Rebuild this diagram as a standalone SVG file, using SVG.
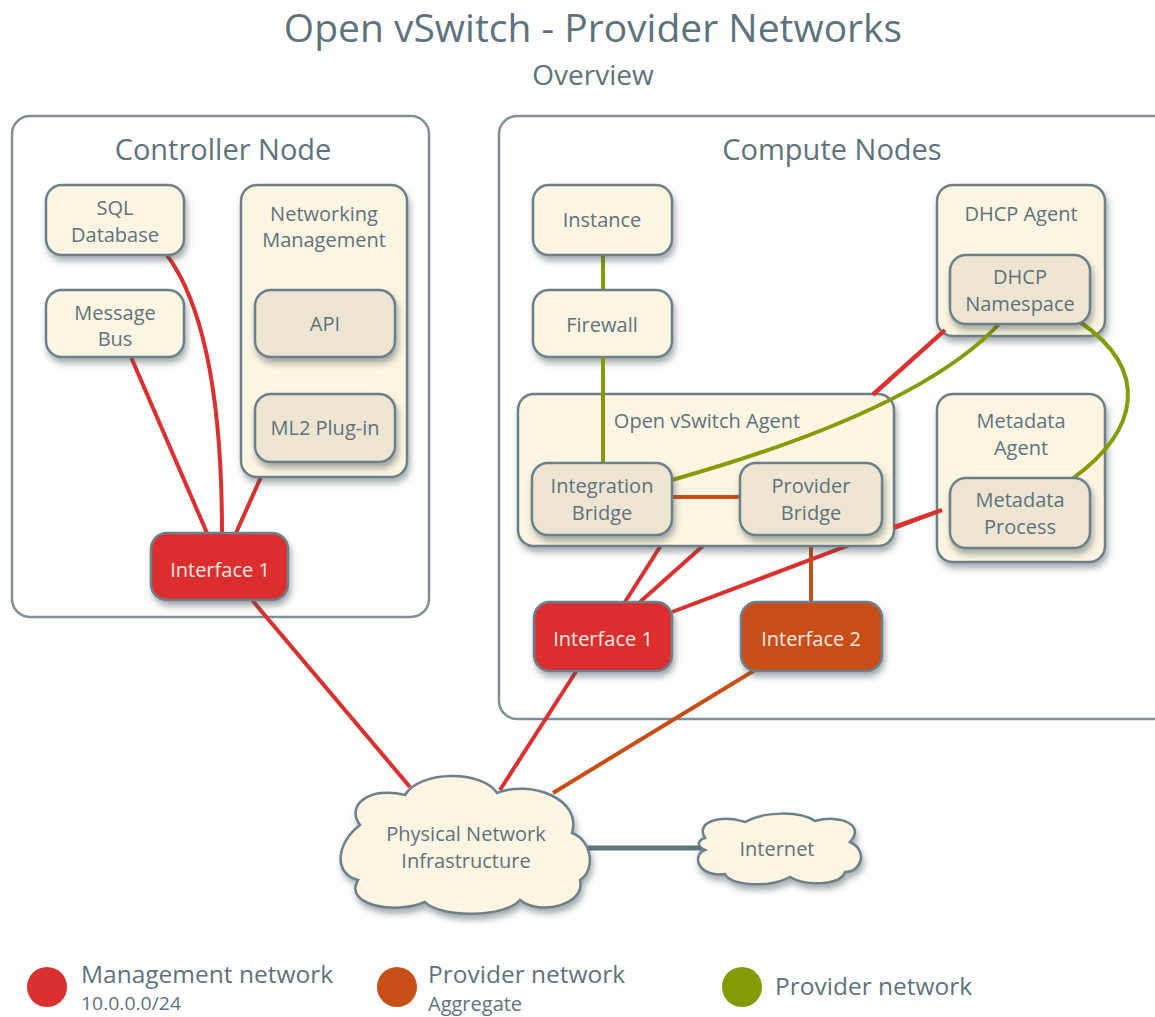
<svg xmlns="http://www.w3.org/2000/svg" width="1155" height="1017" viewBox="0 0 1155 1017">
<defs>
<filter id="sh" x="-20%" y="-20%" width="140%" height="150%">
<feDropShadow dx="2" dy="5" stdDeviation="3" flood-color="#3c4a50" flood-opacity="0.45"/>
</filter>
<style>
text{font-family:"Open Sans","Noto Sans","Liberation Sans",sans-serif;fill:#5e727c;}
.t{font-size:20px;text-anchor:middle;}
.big{font-size:29px;text-anchor:middle;}
.box{fill:#fcf5e2;stroke:#6b818b;stroke-width:2.5;filter:url(#sh);}
.inner{fill:#ede5d2;stroke:#6b818b;stroke-width:2.5;filter:url(#sh);}
.area{fill:#ffffff;stroke:#7d9099;stroke-width:2.5;}
.ifr{fill:#dc2f2f;stroke:#6b818b;stroke-width:2.5;filter:url(#sh);}
.ifo{fill:#c84e17;stroke:#6b818b;stroke-width:2.5;filter:url(#sh);}
.wt{fill:#fbece4;}
.r{stroke:#dc3030;stroke-width:4;fill:none;}
.o{stroke:#c84e17;stroke-width:4;fill:none;}
.g{stroke:#869a06;stroke-width:4;fill:none;}
.k{stroke:#5f7580;stroke-width:5;fill:none;}
</style>
</defs>
<rect width="1155" height="1017" fill="#ffffff"/>
<text x="593" y="42" style="font-size:39px;text-anchor:middle">Open vSwitch - Provider Networks</text>
<text x="593" y="85" style="font-size:28px;text-anchor:middle">Overview</text>

<g id="controller-node">
<rect class="area" x="12" y="116" width="417" height="501" rx="18"/>
<text class="big" x="223" y="160">Controller Node</text>
</g>
<g id="compute-nodes">
<rect class="area" x="499" y="116" width="680" height="603" rx="18"/>
<text class="big" x="832" y="160">Compute Nodes</text>
</g>

<g id="connectors">
<path class="r" d="M167,255 Q222,330 222,533"/>
<path class="r" d="M131,357 L207,533"/>
<path class="r" d="M261,477 L236,533"/>
<path class="r" d="M252,600 L410,787"/>
<path class="g" d="M603,255 L603,290"/>
<path class="r" d="M945,330 L640,602"/>
<path class="r" d="M672,528 L625,602"/>
<path class="r" d="M942,510 L672,612"/>
<path class="o" d="M811,535 L811,602"/>
<path class="r" d="M577,670 L500,790"/>
<path class="o" d="M755,670 L553,793"/>
<path class="k" d="M585,848 L702,848"/>
</g>

<g id="sql-database">
<rect class="box" x="46" y="185" width="138" height="70" rx="16"/>
<text class="t" x="115" y="215">SQL</text>
<text class="t" x="115" y="242">Database</text>
</g>
<g id="message-bus">
<rect class="box" x="46" y="290" width="138" height="67" rx="16"/>
<text class="t" x="115" y="320">Message</text>
<text class="t" x="115" y="346">Bus</text>
</g>
<g id="networking-management">
<rect class="box" x="241" y="185" width="166" height="292" rx="16"/>
<text class="t" x="324" y="221">Networking</text>
<text class="t" x="324" y="247">Management</text>
</g>
<g id="api">
<rect class="inner" x="255" y="290" width="140" height="67" rx="16"/>
<text class="t" x="325" y="331">API</text>
</g>
<g id="ml2-plugin">
<rect class="inner" x="255" y="394" width="140" height="68" rx="16"/>
<text class="t" x="325" y="435">ML2 Plug-in</text>
</g>
<g id="controller-interface-1">
<rect class="ifr" x="151" y="533" width="137" height="67" rx="16"/>
<text class="t wt" x="220" y="577">Interface 1</text>
</g>

<g id="instance">
<rect class="box" x="533" y="185" width="139" height="70" rx="16"/>
<text class="t" x="602" y="227">Instance</text>
</g>
<g id="firewall">
<rect class="box" x="533" y="290" width="139" height="67" rx="16"/>
<text class="t" x="602" y="332">Firewall</text>
</g>
<g id="dhcp-agent">
<rect class="box" x="937" y="185" width="168" height="151" rx="16"/>
<text class="t" x="1021" y="221">DHCP Agent</text>
</g>
<g id="metadata-agent">
<rect class="box" x="937" y="394" width="168" height="168" rx="16"/>
<text class="t" x="1021" y="428">Metadata</text>
<text class="t" x="1021" y="455">Agent</text>
</g>
<g id="ovs-agent">
<rect class="box" x="518" y="394" width="376" height="152" rx="16"/>
<text class="t" x="707" y="428">Open vSwitch Agent</text>
</g>
<g id="connectors-inner">
<path class="g" d="M603,357 L603,463"/>
<path class="o" d="M672,497 L740,497"/>
<path class="g" d="M672,480 Q920,410 1000,323"/>
<path class="g" d="M1080,322 C1150,370 1140,430 1072,479"/>
<path class="r" d="M894,527 L942,510"/>
<path class="r" d="M873,395 L945,330"/>
</g>
<g id="dhcp-namespace">
<rect class="inner" x="950" y="255" width="140" height="69" rx="16"/>
<text class="t" x="1020" y="284">DHCP</text>
<text class="t" x="1020" y="311">Namespace</text>
</g>
<g id="metadata-process">
<rect class="inner" x="950" y="478" width="140" height="70" rx="16"/>
<text class="t" x="1020" y="507">Metadata</text>
<text class="t" x="1020" y="534">Process</text>
</g>
<g id="integration-bridge">
<rect class="inner" x="532" y="463" width="140" height="72" rx="16"/>
<text class="t" x="602" y="493">Integration</text>
<text class="t" x="602" y="520">Bridge</text>
</g>
<g id="provider-bridge">
<rect class="inner" x="740" y="463" width="142" height="72" rx="16"/>
<text class="t" x="811" y="493">Provider</text>
<text class="t" x="811" y="520">Bridge</text>
</g>
<g id="compute-interface-1">
<rect class="ifr" x="534" y="602" width="138" height="69" rx="16"/>
<text class="t wt" x="603" y="646">Interface 1</text>
</g>
<g id="compute-interface-2">
<rect class="ifo" x="741" y="602" width="141" height="69" rx="16"/>
<text class="t wt" x="811" y="646">Interface 2</text>
</g>

<g id="physical-network">
<path class="box" d="M360,825 C345,805 370,786 405,795 C420,770 482,770 497,793 C530,780 582,798 572,833 C592,840 596,870 580,880 C586,905 540,916 520,900 C505,918 440,918 425,902 C395,915 343,905 358,880 C335,875 334,845 360,825 Z"/>
<text class="t" x="466" y="841">Physical Network</text>
<text class="t" x="466" y="868">Infrastructure</text>
</g>
<g id="internet">
<path class="box" d="M705,838 C695,822 720,814 745,822 C765,811 800,811 815,821 C840,814 866,825 850,842 C868,850 862,872 845,872 C840,886 805,886 790,877 C770,888 730,886 725,874 C700,878 690,856 705,850 C696,846 698,840 705,838 Z"/>
<text class="t" x="777" y="856">Internet</text>
</g>

<g id="legend">
<circle cx="47" cy="987" r="20" fill="#dc3030"/>
<text x="81" y="983" style="font-size:24.5px">Management network</text>
<text x="81" y="1010" style="font-size:19px" textLength="100" lengthAdjust="spacingAndGlyphs">10.0.0.0/24</text>
<circle cx="397" cy="987" r="20" fill="#c84e17"/>
<text x="428" y="983" style="font-size:24.5px">Provider network</text>
<text x="428" y="1011" style="font-size:20px">Aggregate</text>
<circle cx="742" cy="987" r="20" fill="#869a06"/>
<text x="775" y="995" style="font-size:24.5px">Provider network</text>
</g>
</svg>
